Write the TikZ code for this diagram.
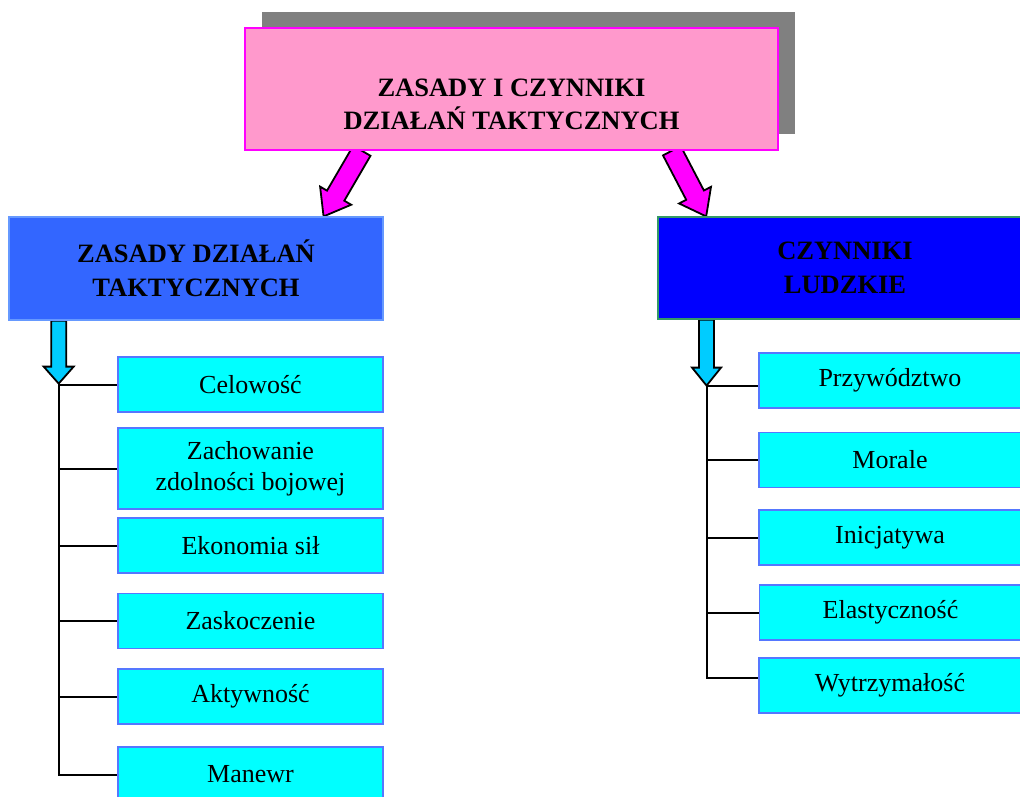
\documentclass[tikz,border=0pt]{standalone}
\usepackage{fontspec}
\setmainfont{Liberation Serif}
\usetikzlibrary{calc,shadows,backgrounds}

\definecolor{pinkbox}{HTML}{FF99CC}
\definecolor{topline}{HTML}{FF00FF}
\definecolor{leftblue}{HTML}{3366FF}
\definecolor{leftline}{HTML}{6699FF}
\definecolor{rightblue}{HTML}{0000FF}
\definecolor{rightline}{HTML}{339966}
\definecolor{itemfill}{HTML}{00FFFF}
\definecolor{itemline}{HTML}{5577FF}
\definecolor{downfill}{HTML}{00CCFF}
\definecolor{shadowgray}{HTML}{808080}

\tikzset{
		title/.style={draw=topline, fill=pinkbox, line width=1.5pt, minimum width=533pt, minimum height=122pt, drop shadow={shadow xshift=17pt, shadow yshift=16pt, fill=shadowgray, opacity=1}},
		head/.style={line width=1.2pt, minimum width=374pt, minimum height=103pt, align=center, font=\fontsize{26.5}{34}\selectfont\bfseries},
		item/.style={draw=itemline, fill=itemfill, line width=1.5pt, minimum width=265pt, minimum height=55pt, align=center, font=\fontsize{26}{31}\selectfont},
		bigarrow/.style={draw=black, fill=topline, line width=1.8pt},
		downarrow/.style={draw=black, fill=downfill, line width=1.8pt},
		tree/.style={black, line width=2pt}
	}

\newcommand{\blockarrow}[6]{%
	\coordinate (ah) at ($(#3)!#6!(#2)$);
	\draw[#1] ($(#2)!#4!90:(#3)$) -- ($(ah)!#4!90:(#3)$) -- ($(ah)!#5!90:(#3)$) -- (#3)
		-- ($(ah)!#5!-90:(#3)$) -- ($(ah)!#4!-90:(#3)$) -- ($(#2)!#4!-90:(#3)$) -- cycle;
}

\begin{document}
\begin{tikzpicture}[x=1pt, y=-1pt]

\useasboundingbox (0,0) rectangle (1020,796);
\clip (0,0) rectangle (1020,796);

\node (top) at (511.5,89) [title, label={[align=center, yshift=-15pt, font=\fontsize{26.5}{33}\selectfont\bfseries]center:{ZASADY I CZYNNIKI\\DZIAŁAŃ TAKTYCZNYCH}}] {};

\node (zasady) at (196,268.5) [head, draw=leftline, fill=leftblue] {ZASADY DZIAŁAŃ\\TAKTYCZNYCH};
\node (czynniki) at (845,268) [head, draw=rightline, fill=rightblue, minimum height=102pt] {CZYNNIKI\\LUDZKIE};

\node (b1) at (250.5,384.5) [item] {Celowość};
\node (b2) at (250.5,468.5) [item, minimum height=81pt] {Zachowanie\\zdolności bojowej};
\node (b3) at (250.5,545.5) [item] {Ekonomia sił};
\node (b4) at (250.5,621) [item] {Zaskoczenie};
\node (b5) at (250.5,696.5) [item] {Aktywność};
\node (b6) at (250.5,774.5) [item] {Manewr};

\node (r1) at (890,380.5) [item, minimum width=262pt] {Przywództwo};
\node (r2) at (890,460) [item, minimum width=262pt] {Morale};
\node (r3) at (890,537.5) [item, minimum width=262pt] {Inicjatywa};
\node (r4) at (890.5,612.5) [item, minimum width=262pt] {Elastyczność};
\node (r5) at (890,685.5) [item, minimum width=262pt] {Wytrzymałość};

\coordinate (la) at ($(top.south west)!0.22!(top.south east)$);
\coordinate (lb) at ($(zasady.north west)!0.84!(zasady.north east)$);
\coordinate (ra) at ($(top.south west)!0.8!(top.south east)$);
\coordinate (rb) at ($(czynniki.north west)!0.13!(czynniki.north east)$);

\coordinate (ls) at ($(zasady.south west)!0.134!(zasady.south east)$);
\coordinate (ltip) at ([yshift=-63pt]ls);
\coordinate (rs) at ($(czynniki.south west)!0.131!(czynniki.south east)$);
\coordinate (rtip) at ([yshift=-66pt]rs);

\begin{pgfonlayer}{background}
\blockarrow{bigarrow}{la}{lb}{10pt}{18pt}{24pt}
\blockarrow{bigarrow}{ra}{rb}{10pt}{18pt}{24pt}
\blockarrow{downarrow}{ls}{ltip}{7.5pt}{15pt}{17pt}
\blockarrow{downarrow}{rs}{rtip}{7.5pt}{14.5pt}{18pt}
\end{pgfonlayer}

\draw[tree] (ltip) |- (b6.west);
\foreach \n in {b1,b2,b3,b4,b5}
	\draw[tree] (ltip |- \n.west) -- (\n.west);

\draw[tree] (rtip) -- (rtip -| r1.west);
\foreach \n in {r2,r3,r4}
	\draw[tree] (rtip |- \n.west) -- (\n.west);
\draw[tree] (rtip) |- ([yshift=8pt]r5.west);

\end{tikzpicture}
\end{document}
